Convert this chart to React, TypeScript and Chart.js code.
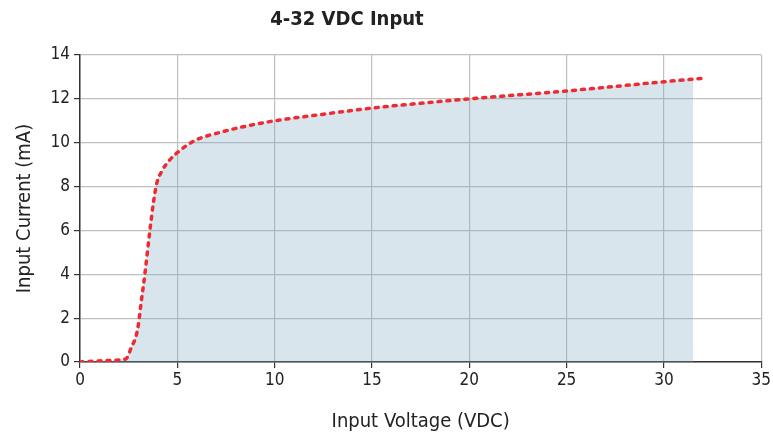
import React, { useEffect, useRef } from "react";
import { Chart, registerables } from "chart.js";

Chart.register(...registerables);

const voltage = [0, 1, 2.1, 2.39, 2.65, 2.87, 3.0, 3.11, 3.33, 3.59, 3.76, 3.93, 4.2, 4.6, 5.0, 5.9, 7.2, 8.5, 10, 12.5, 15, 17.5, 20, 22.5, 25, 27.5, 30, 32];
const current = [0, 0.05, 0.1, 0.17, 0.7, 1.15, 1.7, 2.5, 4.0, 6.0, 7.2, 8.1, 8.7, 9.2, 9.55, 10.1, 10.47, 10.75, 11.0, 11.3, 11.58, 11.8, 12.0, 12.18, 12.36, 12.57, 12.78, 12.94];
const shadeEndV = 31.5;
const shadeEndI = 12.88;
const xTicks = [0, 5, 10, 15, 20, 25, 30, 35];
const yTicks = [0, 2, 4, 6, 8, 10, 12, 14];
const titleText = "4-32 VDC Input";
const xTitle = "Input Voltage (VDC)";
const yTitle = "Input Current (mA)";

const FONT = "'DejaVu Sans Condensed', 'Roboto', sans-serif";

export default function App() {
  const ref = useRef<HTMLCanvasElement>(null);
  useEffect(() => {
    const linePts = voltage.map((v, i) => ({ x: v, y: current[i] }));
    const fillPts = voltage
      .map((v, i) => ({ x: v, y: current[i] }))
      .filter((p) => p.x <= shadeEndV)
      .concat([{ x: shadeEndV, y: shadeEndI }]);
    const titlePlugin = {
      id: "customTitle",
      afterDraw(chart: any) {
        const ctx = chart.ctx;
        ctx.save();
        ctx.font = `bold 20px ${FONT}`;
        ctx.fillStyle = "#222";
        ctx.textAlign = "center";
        ctx.textBaseline = "middle";
        ctx.fillText(titleText, 347, 20);
        ctx.restore();
      },
    };
    const chart = new Chart(ref.current!, {
      type: "scatter",
      data: {
        datasets: [
          {
            data: linePts,
            showLine: true,
            borderColor: "#ee2b33",
            borderWidth: 3.5,
            borderDash: [3, 6],
            borderCapStyle: "round",
            pointRadius: 0,
            cubicInterpolationMode: "monotone",
            fill: false,
            order: 0,
          },
          {
            data: fillPts,
            showLine: true,
            borderWidth: 0,
            borderColor: "rgba(0,0,0,0)",
            backgroundColor: "rgba(125,168,192,0.3)",
            pointRadius: 0,
            cubicInterpolationMode: "monotone",
            fill: "origin",
            order: 1,
          },
        ] as any,
      },
      plugins: [titlePlugin],
      options: {
        animation: false,
        responsive: false,
        layout: { padding: { top: 55, right: 10, left: 0, bottom: 0 } },
        plugins: { legend: { display: false }, tooltip: { enabled: false }, title: { display: false } },
        scales: {
          x: {
            type: "linear",
            min: 0,
            max: 35,
            afterBuildTicks: (s: any) => { s.ticks = xTicks.map((v) => ({ value: v })); },
            afterFit: (s: any) => { s.height = 79; },
            grid: { color: "#bfbfbf", lineWidth: 1.2, tickLength: 6, tickColor: "#333" },
            border: { color: "#333", width: 1.5 },
            ticks: { color: "#222", font: { family: FONT, size: 17 }, padding: 2, maxRotation: 0 },
            title: { display: true, text: xTitle, color: "#222", font: { family: FONT, size: 20 }, padding: { top: 0, bottom: 7 } },
          },
          y: {
            type: "linear",
            min: 0,
            max: 14,
            afterBuildTicks: (s: any) => { s.ticks = yTicks.map((v) => ({ value: v })); },
            afterFit: (s: any) => { s.width = 80; },
            grid: { color: "#bfbfbf", lineWidth: 1.2, tickLength: 6, tickColor: "#333" },
            border: { color: "#333", width: 1.5 },
            ticks: { color: "#222", font: { family: FONT, size: 17 }, padding: 4 },
            title: { display: true, text: yTitle, color: "#222", font: { family: FONT, size: 20 }, padding: { top: 13, bottom: 0 } },
          },
        },
      } as any,
    });
    return () => chart.destroy();
  }, []);
  return (
    <div style={{ position: "fixed", left: 0, top: 0, width: 773, height: 441, background: "#fff" }}>
      <canvas ref={ref} width={773} height={441} style={{ width: 773, height: 441 }} />
    </div>
  );
}
